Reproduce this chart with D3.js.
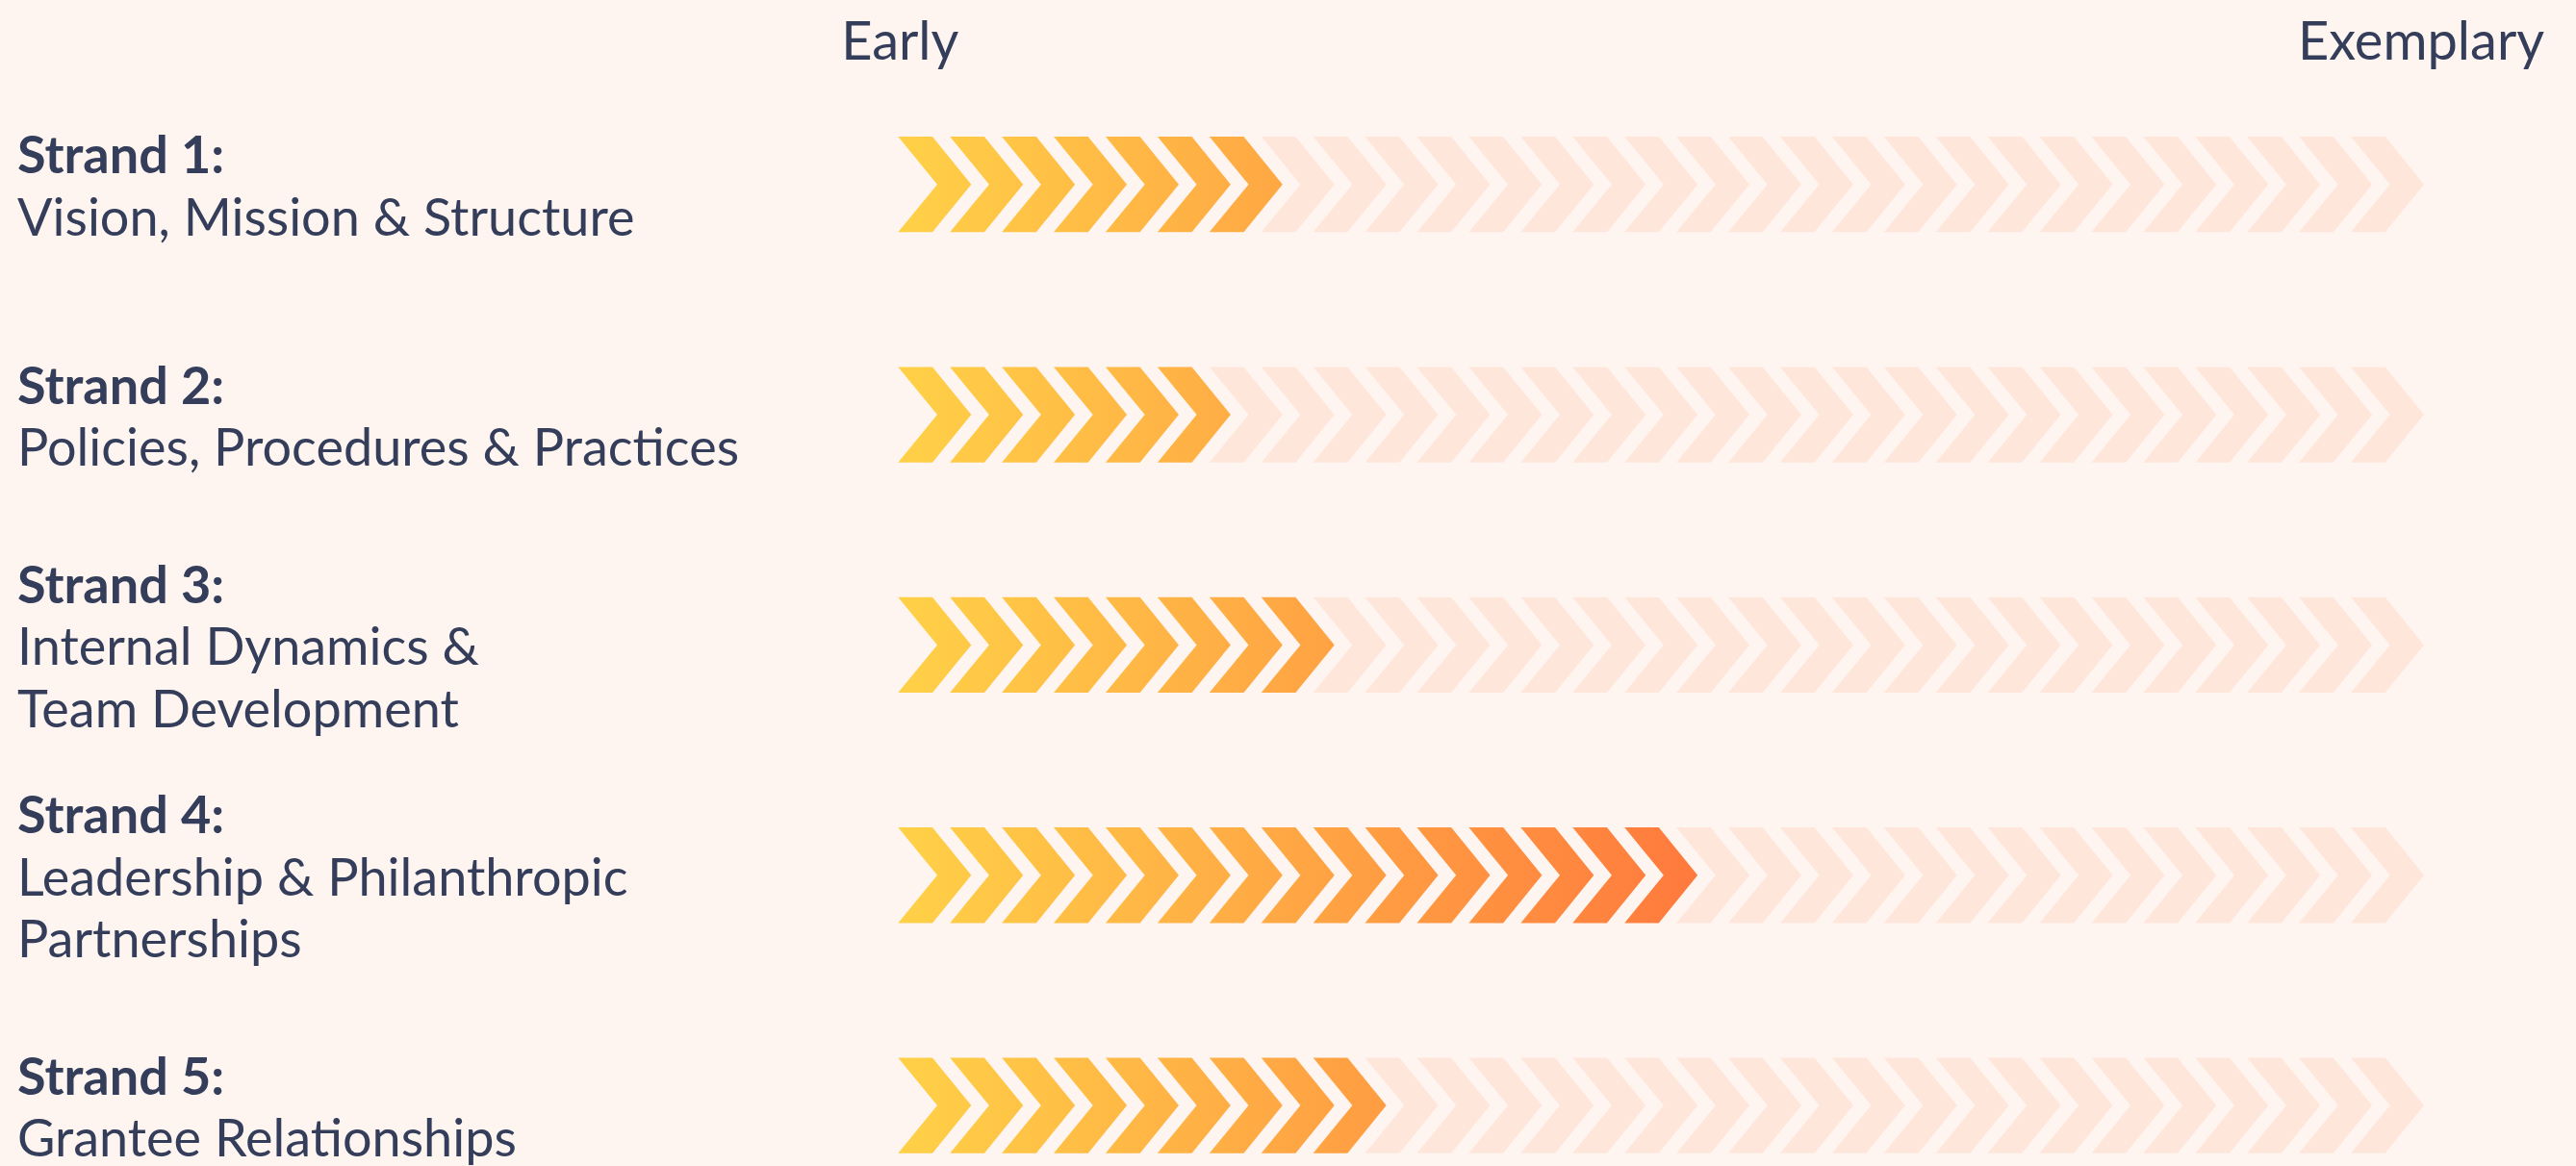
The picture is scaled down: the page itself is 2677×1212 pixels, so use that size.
<!DOCTYPE html>
<html>
<head>
<meta charset="utf-8">
<script src="https://cdn.jsdelivr.net/npm/d3@7"></script>
<style>
  html, body { margin: 0; padding: 0; background: #fff5f0; }
  svg { display: block; }
</style>
</head>
<body>
<div id="chart"></div>
<script>
const strandTitles = ['Strand 1:', 'Strand 2:', 'Strand 3:', 'Strand 4:', 'Strand 5:'];
const strandNames = [
  ['Vision, Mission & Structure'],
  ['Policies, Procedures & Practices'],
  ['Internal Dynamics &', 'Team Development'],
  ['Leadership & Philanthropic', 'Partnerships'],
  ['Grantee Relationships']
];
const strandLevels = [7, 6, 8, 15, 9];
const totalSteps = 29;
const scaleLabels = ['Early', 'Exemplary'];

const width = 2677, height = 1212;
const textColor = '#343e5b';

const svg = d3.select('#chart')
  .append('svg')
  .attr('width', width)
  .attr('height', height)
  .attr('viewBox', [0, 0, width, height]);

svg.append('rect')
  .attr('width', width)
  .attr('height', height)
  .attr('fill', '#fff5f0');

// step index -> left edge of chevron
const x = d3.scaleLinear()
  .domain([0, totalSteps - 1])
  .range([933.3, 2443]);

const pitch = x(1) - x(0);
const chevW = pitch * 1.41;      // left corner to tip
const flat = pitch * 0.662;      // top edge length
const notch = pitch * 0.755;     // inner notch depth
const chevH = 99.3;

const y = d3.scalePoint()
  .domain(strandTitles)
  .range([191.7, 1149.1]);

const defs = svg.append('defs');
const grad = defs.append('linearGradient')
  .attr('id', 'fillGrad')
  .attr('gradientUnits', 'userSpaceOnUse')
  .attr('x1', x(0)).attr('x2', x(totalSteps - 1) + chevW)
  .attr('y1', 0).attr('y2', 0);
grad.selectAll('stop')
  .data([[0, '#ffd147'], [0.25, '#ffa844'], [0.52, '#ff7a3d'], [1, '#ff5533']])
  .join('stop')
  .attr('offset', d => d[0])
  .attr('stop-color', d => d[1]);

function chevron(x0) {
  const h = chevH / 2;
  return `M${x0},${-h}L${x0 + flat},${-h}L${x0 + chevW},0L${x0 + flat},${h}L${x0},${h}L${x0 + notch},0Z`;
}

const rows = svg.append('g')
  .selectAll('g')
  .data(strandTitles.map((t, i) => ({ title: t, lines: strandNames[i], level: strandLevels[i] })))
  .join('g')
  .attr('transform', d => `translate(0,${y(d.title)})`);

rows.selectAll('path')
  .data(d => d3.range(totalSteps).map(s => ({ s, on: s < d.level })))
  .join('path')
  .attr('d', d => chevron(x(d.s)))
  .attr('fill', d => d.on ? 'url(#fillGrad)' : '#ffe6db');

// labels on the left
const lineH = 64.5;
rows.each(function (d) {
  const n = d.lines.length + 1;
  const first = 21 - (n - 1) * lineH / 2;
  const t = d3.select(this).append('text')
    .attr('x', 18)
    .attr('fill', textColor)
    .style('font-family', 'Lato, sans-serif')
    .style('font-size', '54px');
  t.append('tspan')
    .attr('x', 18)
    .attr('y', first)
    .style('font-weight', 700)
    .text(d.title);
  d.lines.forEach((ln, k) => {
    t.append('tspan')
      .attr('x', 18)
      .attr('y', first + (k + 1) * lineH)
      .text(ln);
  });
});

// Early / Exemplary
svg.append('g')
  .selectAll('text')
  .data(scaleLabels)
  .join('text')
  .attr('x', (d, i) => i === 0 ? x(0) + 2 : x(totalSteps - 1) + chevW - 3)
  .attr('y', 61.7)
  .attr('text-anchor', 'middle')
  .attr('fill', textColor)
  .style('font-family', 'Lato, sans-serif')
  .style('font-size', '56px')
  .text(d => d);
</script>
</body>
</html>
